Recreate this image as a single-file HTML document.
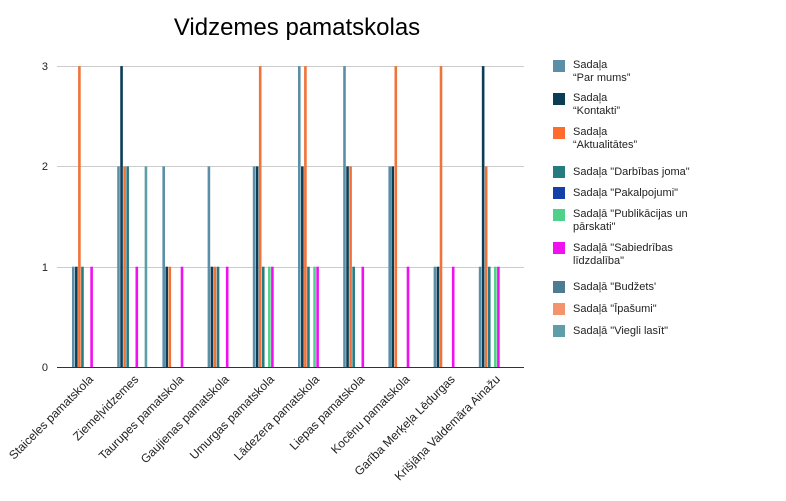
<!DOCTYPE html>
<html><head><meta charset="utf-8"><style>
body{margin:0;background:#fff;}
svg{display:block;font-family:"Liberation Sans",sans-serif;}
</style></head><body>
<svg width="786" height="501" viewBox="0 0 786 501" xmlns="http://www.w3.org/2000/svg">
<rect width="786" height="501" fill="#fff"/>
<text x="297" y="35" font-size="24" text-anchor="middle" fill="#000">Vidzemes pamatskolas</text>
<g stroke="#cccccc" stroke-width="1">
<line x1="57" y1="66.5" x2="524" y2="66.5"/>
<line x1="57" y1="166.5" x2="524" y2="166.5"/>
<line x1="57" y1="267.5" x2="524" y2="267.5"/>
</g>
<g font-size="11" fill="#222" text-anchor="end">
<text x="48" y="70">3</text><text x="48" y="170">2</text><text x="48" y="271">1</text><text x="48" y="371">0</text>
</g>
<g id="bars"></g>
<line x1="57" y1="367.5" x2="524" y2="367.5" stroke="#333" stroke-width="1"/>
<g font-size="12" fill="#222" text-anchor="end" id="xl"></g>
<g font-size="11" fill="#222" id="leg">
<rect x="553" y="60" width="12" height="12" fill="#5b8fa8"/><text x="573" y="68">Sadaļa</text><text x="573" y="81">“Par mums”</text>
<rect x="553" y="93" width="12" height="12" fill="#0b3d57"/><text x="573" y="101">Sadaļa</text><text x="573" y="114">“Kontakti”</text>
<rect x="553" y="127" width="12" height="12" fill="#ff6a2f"/><text x="573" y="135">Sadaļa</text><text x="573" y="148">“Aktualitātes”</text>
<rect x="553" y="166" width="12" height="12" fill="#267a80"/><text x="573" y="175">Sadaļa "Darbības joma"</text>
<rect x="553" y="187" width="12" height="12" fill="#1540a8"/><text x="573" y="196">Sadaļa "Pakalpojumi"</text>
<rect x="553" y="209" width="12" height="12" fill="#4fd18b"/><text x="573" y="217">Sadaļā "Publikācijas un</text><text x="573" y="230">pārskati"</text>
<rect x="553" y="242" width="12" height="12" fill="#f010f0"/><text x="573" y="251">Sadaļā "Sabiedrības</text><text x="573" y="264">līdzdalība"</text>
<rect x="553" y="281" width="12" height="12" fill="#4d7a94"/><text x="573" y="290">Sadaļā "Budžets'</text>
<rect x="553" y="303" width="12" height="12" fill="#f5946c"/><text x="573" y="312">Sadaļā "Īpašumi"</text>
<rect x="553" y="325" width="12" height="12" fill="#5d9ea8"/><text x="573" y="334">Sadaļā "Viegli lasīt"</text>
</g>
<script>
var cols=["#5b8fa8","#0b3d57","#f0733a","#267a80","#1540a8","#4fd18b","#f010f0","#4d7a94","#f5946c","#5d9ea8"];
var d=[[1,1,3,1,0,0,1,0,0,0],[2,3,2,2,0,0,1,0,0,2],[2,1,1,0,0,0,1,0,0,0],[2,1,1,1,0,0,1,0,0,0],[2,2,3,1,0,1,1,0,0,0],[3,2,3,1,0,1,1,0,0,0],[3,2,2,1,0,0,1,0,0,0],[2,2,3,0,0,0,1,0,0,0],[1,1,3,0,0,0,1,0,0,0],[1,3,2,1,0,1,1,0,0,0]];
var names=["Staiceles pamatskola","Ziemeļvidzemes","Taurupes pamatskola","Gaujienas pamatskola","Umurgas pamatskola","Lādezera pamatskola","Liepas pamatskola","Kocēnu pamatskola","Garība Merķeļa Lēdurgas","Krišjāņa Valdemāra Ainažu"];
var ns="http://www.w3.org/2000/svg",b=document.getElementById("bars"),xl=document.getElementById("xl");
for(var g=0;g<10;g++){var x0=72+g*45.2;
for(var s=0;s<10;s++){var v=d[g][s];if(!v)continue;var r=document.createElementNS(ns,"rect");
r.setAttribute("x",x0+s*3.05);r.setAttribute("width",2.6);r.setAttribute("y",367-v*100.3);r.setAttribute("height",v*100.3);r.setAttribute("fill",cols[s]);b.appendChild(r);}
var t=document.createElementNS(ns,"text");var cx=x0+22;t.setAttribute("transform","translate("+cx+",380) rotate(-45)");t.textContent=names[g];xl.appendChild(t);}
</script>
</svg>
</body></html>
